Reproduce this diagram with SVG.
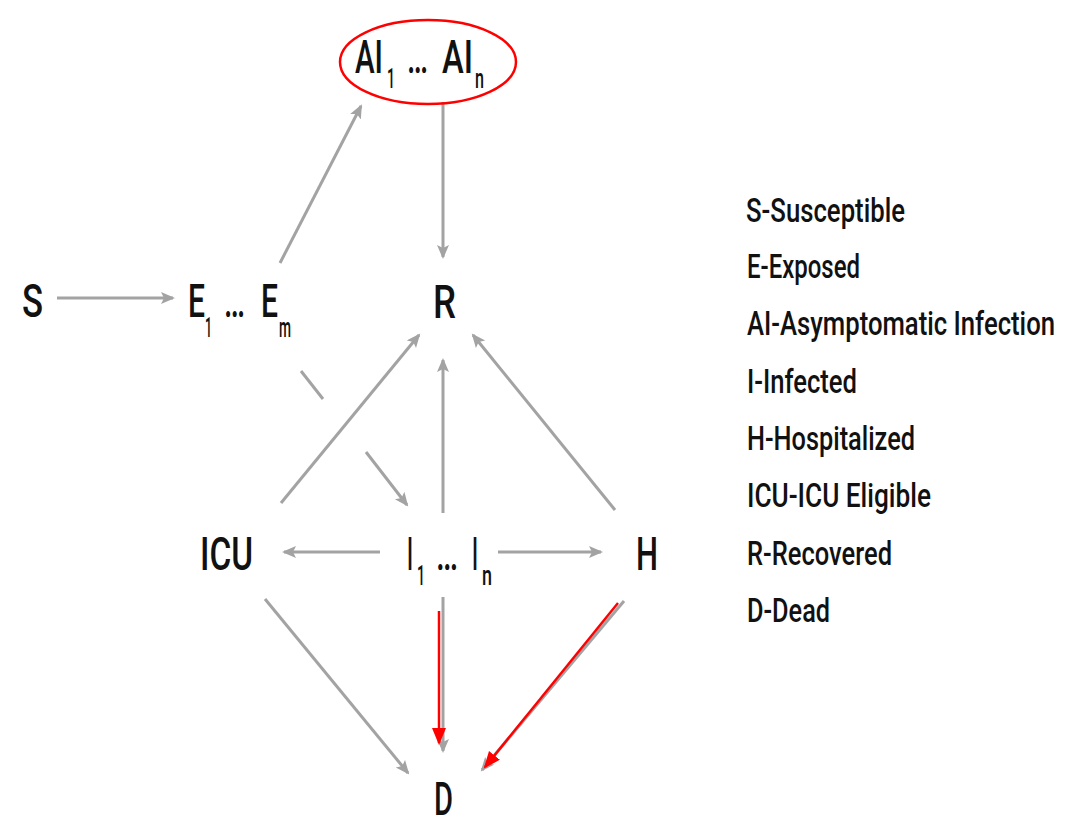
<svg xmlns="http://www.w3.org/2000/svg" width="1086" height="821" viewBox="0 0 1086 821">
<style>
.g{stroke:#a3a3a3;stroke-width:3;fill:none;marker-end:url(#ga)}
.gn{stroke:#a3a3a3;stroke-width:3;fill:none}
.r{stroke:#ff0000;stroke-width:2.5;fill:none;marker-end:url(#ra)}
.t{font-family:Roboto,"Liberation Sans",sans-serif;fill:#111;font-size:46px;font-weight:500}
.s{font-size:28px}
.l{font-family:Roboto,"Liberation Sans",sans-serif;fill:#111;font-size:33px;font-weight:500}
</style>
<defs>
<marker id="ga" markerUnits="userSpaceOnUse" markerWidth="16" markerHeight="14" refX="12" refY="6" orient="auto" viewBox="0 0 16 14">
<path d="M0,0 L14,6 L0,12 L3,6 z" fill="#a3a3a3"/>
</marker>
<marker id="ra" markerUnits="userSpaceOnUse" markerWidth="18" markerHeight="16" refX="15" refY="7" orient="auto" viewBox="0 0 18 16">
<path d="M0,0 L17,7 L0,14 z" fill="#ff0000"/>
</marker>
</defs>
<rect width="1086" height="821" fill="#fff"/>
<g id="connectors">
<line class="g" x1="57" y1="298" x2="173" y2="298"/>
<line class="g" x1="280" y1="263" x2="361" y2="106"/>
<line class="g" x1="443" y1="102" x2="443" y2="257"/>
<line class="gn" x1="301" y1="371" x2="323" y2="399"/>
<line class="g" x1="366" y1="452" x2="407" y2="505"/>
<line class="g" x1="281" y1="503" x2="419" y2="335"/>
<line class="g" x1="443" y1="513" x2="443" y2="360"/>
<line class="g" x1="615" y1="510" x2="473" y2="335"/>
<line class="g" x1="380" y1="552" x2="284" y2="552"/>
<line class="g" x1="498" y1="552" x2="601" y2="552"/>
<line class="g" x1="265" y1="599" x2="408" y2="773"/>
<line class="g" x1="443" y1="597" x2="443" y2="751"/>
<line class="g" x1="624" y1="601" x2="482" y2="770"/>
<line class="r" x1="439" y1="611" x2="439" y2="743"/>
<line class="r" x1="618" y1="603" x2="485" y2="767"/>
</g>
<g id="node-S"><text class="t" x="22" y="317" textLength="21" lengthAdjust="spacingAndGlyphs">S</text></g>
<g id="node-E"><text class="t"><tspan x="188" y="317" textLength="17" lengthAdjust="spacingAndGlyphs">E</tspan><tspan class="s" x="205" y="337" textLength="7" lengthAdjust="spacingAndGlyphs">1</tspan><tspan x="224" y="317" textLength="21" lengthAdjust="spacingAndGlyphs">…</tspan><tspan x="261" y="317" textLength="17" lengthAdjust="spacingAndGlyphs">E</tspan><tspan class="s" x="279" y="337" textLength="12" lengthAdjust="spacingAndGlyphs">m</tspan></text></g>
<g id="node-AI">
<ellipse cx="428" cy="62" rx="88" ry="42" fill="none" stroke="#ff0000" stroke-width="2.5"/>
<text class="t"><tspan x="355" y="73" textLength="28" lengthAdjust="spacingAndGlyphs">AI</tspan><tspan class="s" x="387" y="88" textLength="8" lengthAdjust="spacingAndGlyphs">1</tspan><tspan x="407" y="73" textLength="21" lengthAdjust="spacingAndGlyphs">…</tspan><tspan x="442" y="73" textLength="31" lengthAdjust="spacingAndGlyphs">AI</tspan><tspan class="s" x="475" y="88" textLength="9" lengthAdjust="spacingAndGlyphs">n</tspan></text>
</g>
<g id="node-R"><text class="t" x="433" y="318" textLength="23" lengthAdjust="spacingAndGlyphs">R</text></g>
<g id="node-ICU"><text class="t" x="200" y="570" textLength="53" lengthAdjust="spacingAndGlyphs">ICU</text></g>
<g id="node-I"><text class="t"><tspan x="407" y="570" textLength="6" lengthAdjust="spacingAndGlyphs">I</tspan><tspan class="s" x="417" y="585" textLength="8" lengthAdjust="spacingAndGlyphs">1</tspan><tspan x="436" y="570" textLength="22" lengthAdjust="spacingAndGlyphs">…</tspan><tspan x="472" y="570" textLength="6" lengthAdjust="spacingAndGlyphs">I</tspan><tspan class="s" x="482" y="585" textLength="10" lengthAdjust="spacingAndGlyphs">n</tspan></text></g>
<g id="node-H"><text class="t" x="636" y="570" textLength="22" lengthAdjust="spacingAndGlyphs">H</text></g>
<g id="node-D"><text class="t" x="434" y="815" textLength="19" lengthAdjust="spacingAndGlyphs">D</text></g>
<g id="legend">
<text class="l" x="746" y="222" textLength="159" lengthAdjust="spacingAndGlyphs">S-Susceptible</text>
<text class="l" x="747" y="278" textLength="113" lengthAdjust="spacingAndGlyphs">E-Exposed</text>
<text class="l" x="747" y="335" textLength="308" lengthAdjust="spacingAndGlyphs">AI-Asymptomatic Infection</text>
<text class="l" x="747" y="393" textLength="110" lengthAdjust="spacingAndGlyphs">I-Infected</text>
<text class="l" x="747" y="450" textLength="168" lengthAdjust="spacingAndGlyphs">H-Hospitalized</text>
<text class="l" x="747" y="507" textLength="184" lengthAdjust="spacingAndGlyphs">ICU-ICU Eligible</text>
<text class="l" x="747" y="565" textLength="145" lengthAdjust="spacingAndGlyphs">R-Recovered</text>
<text class="l" x="747" y="622" textLength="83" lengthAdjust="spacingAndGlyphs">D-Dead</text>
</g>
</svg>
